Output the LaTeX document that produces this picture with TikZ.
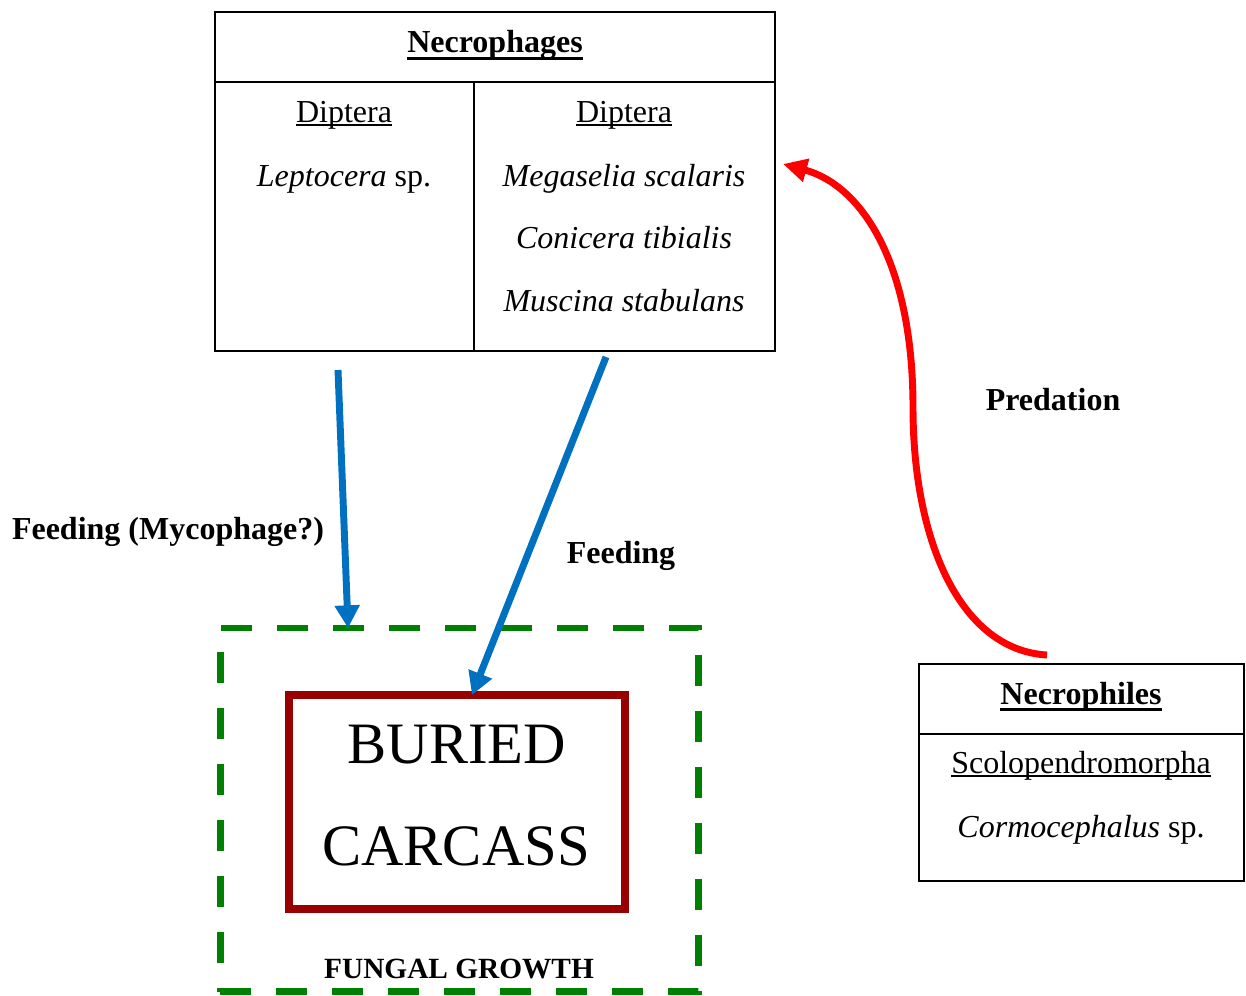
\documentclass[tikz,border=0pt]{standalone}
\usepackage{fontspec}
\setmainfont{Liberation Serif}
\usetikzlibrary{arrows.meta, calc, positioning}

\definecolor{feedblue}{RGB}{0,112,192}
\definecolor{carcassred}{RGB}{153,0,0}
\definecolor{fungusgreen}{RGB}{0,128,0}

% underlined taxon names, the line cuts through the descenders
\newcommand{\taxline}[1]{\setbox0\hbox{#1}\rlap{\rule[-1.6pt]{\wd0}{0.7pt}}\box0}
\newcommand{\hdline}[1]{\setbox0\hbox{\bfseries#1}\rlap{\rule[-2.6pt]{\wd0}{1pt}}\box0}

\begin{document}
\begin{tikzpicture}[x=0.375pt, y=-0.375pt, font=\fontsize{12}{14}\selectfont,
		cell/.style={draw, line width=0.75pt, inner sep=0pt, outer sep=0pt},
		txt/.style={anchor=base},
		rel/.style={anchor=base, font=\fontsize{12}{14}\selectfont\bfseries},
		feed/.style={-{Triangle[length=8.5pt,width=9pt]}, line width=2.6pt, draw=feedblue},
		prey/.style={-{Triangle[length=9pt,width=8.5pt]}, line width=2.6pt, draw=red}]
	\useasboundingbox (0,0) rectangle (1246,995);

	% necrophages table
	\node[cell, minimum width=210pt, minimum height=26.25pt] (phH) at (495,47) {};
	\node[cell, minimum width=97.125pt, minimum height=100.875pt] (phL) at (344.5,216.5) {};
	\node[cell, minimum width=112.875pt, minimum height=100.875pt] (phR) at (624.5,216.5) {};
	\node[txt] (phT) at (495,53) {\hdline{Necrophages}};
	\node[txt] (lord) at (344,122) {\taxline{Diptera}};
	\node[txt] (lsp1) at (344,186) {\textit{Leptocera} sp.};
	\node[txt] (rord) at (624,122) {\taxline{Diptera}};
	\node[txt] (rsp1) at (624,186) {\textit{Megaselia scalaris}};
	\node[txt] (rsp2) at (624,248) {\textit{Conicera tibialis}};
	\node[txt] (rsp3) at (624,311) {\textit{Muscina stabulans}};

	% necrophiles table
	\node[cell, minimum width=121.875pt, minimum height=26.25pt] (plH) at (1081.5,699) {};
	\node[cell, minimum width=121.875pt, minimum height=55.125pt] (plB) at (1081.5,807.5) {};
	\node[txt] (plT) at (1081,704) {\hdline{Necrophiles}};
	\node[txt] (pord) at (1081,773) {\taxline{Scolopendromorpha}};
	\node[txt] (psp1) at (1081,837) {\textit{Cormocephalus} sp.};

	% carcass and the fungal zone round it
	\node[draw=fungusgreen, line width=2.6pt, dash pattern=on 11.6pt off 9.4pt, outer sep=0pt,
		minimum width=179.4pt, minimum height=136.3pt] (fungal) at (459.25,809.75) {};
	\node[draw=carcassred, line width=3pt, outer sep=0pt,
		minimum width=126pt, minimum height=80.25pt] (carcass) at (457,802) {};
	\node[txt, font=\fontsize{22}{26}\selectfont] (bur) at (457,763) {BURIED};
	\node[txt, font=\fontsize{22}{26}\selectfont] (car) at (456,865) {CARCASS};
	\node[txt, font=\fontsize{11}{13}\selectfont\bfseries] (fgT) at (459,978) {FUNGAL GROWTH};

	% interactions
	\coordinate (mycoS) at (338,370);
	\coordinate (feedS) at (606,357);
	\coordinate (predS) at (1047,655);
	\coordinate (predE) at (783,164);
	\draw[feed] (mycoS) -- ($(fungal.north west)+(128,0)$);
	\draw[feed] (feedS) -- ($(carcass.north)+(15,0)$);
	\draw[prey] (predS) .. controls (960,650) and (913,540) .. (913,408)
		.. controls (913,260) and (860,185) .. (predE);

	\node[rel] (mycoL) at (168,539) {Feeding (Mycophage?)};
	\node[rel] (feedL) at (621,563) {Feeding};
	\node[rel] (predL) at (1053,410) {Predation};
\end{tikzpicture}
\end{document}
